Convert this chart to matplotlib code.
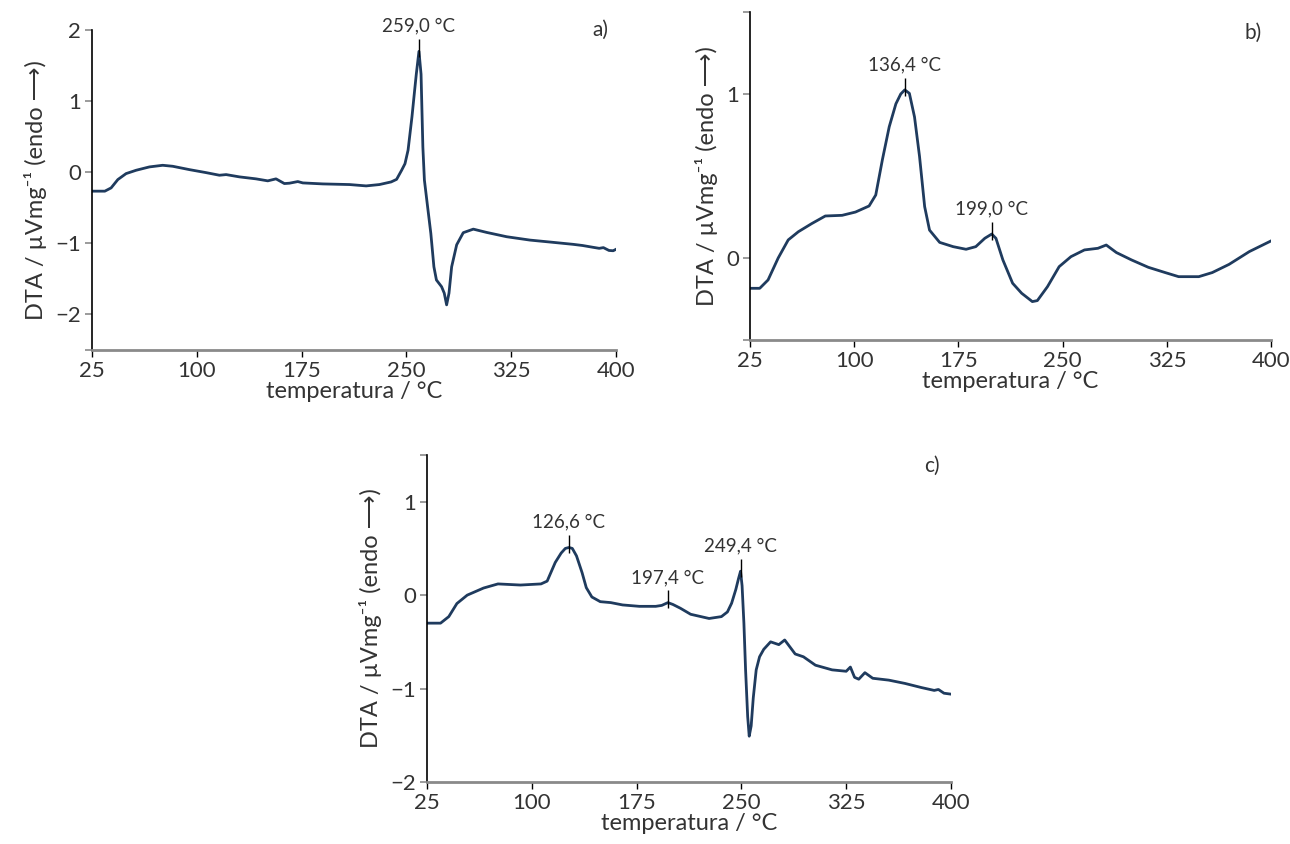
import numpy as np
import matplotlib
matplotlib.use('Agg')
from matplotlib import pyplot as plt

plt.rcParams['font.family'] = ['Lato', 'DejaVu Sans']

# DTA curve a) -- temperature (°C) and signal (µV/mg)
temp_a = [25, 34.2, 38.7, 43.5, 49.4, 56.6, 66.1, 75.6, 82.8, 94.7, 106.6, 116.2, 121,
          130.5, 142.4, 150.8, 156.7, 162.7, 166.3, 172.3, 175.9, 190.2, 209.3, 221.2,
          230.7, 239.1, 243, 246.6, 249, 251.2, 254, 255.9, 257.1, 259.0, 260.5, 261.8,
          262.9, 265.2, 267.5, 269.7, 271.5, 275.2, 277.1, 278.8, 280.5, 282.4, 286,
          290.7, 297.9, 307.4, 321.8, 338.4, 355.1, 369.4, 376, 383.7, 388, 391, 395, 398, 400]
dta_a = [-0.266, -0.266, -0.22, -0.103, -0.019, 0.028, 0.075, 0.098, 0.084, 0.037,
         -0.005, -0.042, -0.033, -0.065, -0.093, -0.121, -0.093, -0.159, -0.154, -0.131,
         -0.15, -0.164, -0.173, -0.192, -0.173, -0.136, -0.10, 0.028, 0.12, 0.31, 0.78,
         1.15, 1.38, 1.70, 1.38, 0.355, -0.11, -0.487, -0.86, -1.33, -1.515, -1.61, -1.70,
         -1.865, -1.70, -1.33, -1.02, -0.85, -0.80, -0.846, -0.907, -0.954, -0.986,
         -1.014, -1.03, -1.056, -1.07, -1.06, -1.10, -1.104, -1.084]

# DTA curve b)
temp_b = [25, 32.0, 38.0, 45.3, 52.5, 59.8, 69.5, 79.2, 91.3, 100.9, 110.7, 115.5, 120.3,
          125.2, 130.0, 133.5, 136.4, 139.7, 143.4, 147.0, 150.7, 154.2, 161.5, 171.2,
          180.5, 187.5, 194, 199.0, 202, 207, 214, 220.5, 228.2, 231.8, 239.1, 247.5,
          256.0, 265.7, 275.4, 281.4, 288.7, 299.6, 311.7, 323.8, 333.5, 348.0, 357.7,
          369.8, 384.4, 400]
dta_b = [-0.185, -0.185, -0.134, 0.0, 0.11, 0.16, 0.21, 0.256, 0.26, 0.28, 0.317, 0.384,
         0.60, 0.80, 0.94, 1.0, 1.025, 1.004, 0.86, 0.62, 0.313, 0.17, 0.095, 0.069,
         0.053, 0.069, 0.12, 0.146, 0.12, -0.012, -0.154, -0.215, -0.266, -0.26, -0.175,
         -0.053, 0.008, 0.049, 0.059, 0.079, 0.033, -0.012, -0.057, -0.089, -0.114,
         -0.114, -0.089, -0.039, 0.039, 0.104]

# DTA curve c)
temp_c = [25, 34.7, 40.6, 46.4, 53.8, 65.5, 75.8, 91.9, 106.6, 111, 116.8, 121, 124,
          126.6, 129, 132, 136, 139, 143, 149, 156.5, 165, 177, 188.7, 193, 197.4, 201,
          206.3, 213.7, 226.9, 235.7, 240, 243, 246, 248, 249.4, 250.5, 251.8, 253,
          254.5, 255.6, 257, 258.5, 260.6, 263, 266, 270.9, 276.8, 281, 288.5, 294.4,
          303, 314.9, 325, 328, 331, 334, 338.4, 344, 355.5, 367, 379, 388, 391, 395, 400]
dta_c = [-0.30, -0.30, -0.23, -0.09, 0.0, 0.076, 0.12, 0.108, 0.12, 0.15, 0.35, 0.45,
         0.50, 0.51, 0.50, 0.42, 0.24, 0.08, -0.02, -0.07, -0.08, -0.105, -0.12, -0.12,
         -0.11, -0.08, -0.10, -0.14, -0.205, -0.25, -0.23, -0.18, -0.087, 0.06, 0.18,
         0.256, 0.10, -0.30, -0.80, -1.30, -1.51, -1.40, -1.10, -0.80, -0.66, -0.58,
         -0.50, -0.53, -0.48, -0.63, -0.66, -0.75, -0.80, -0.815, -0.77, -0.88, -0.90,
         -0.83, -0.89, -0.91, -0.945, -0.99, -1.02, -1.01, -1.05, -1.06]

peaks_a = [(259.0, 1.70, '259,0 °C')]
peaks_b = [(136.4, 1.025, '136,4 °C'), (199.0, 0.146, '199,0 °C')]
peaks_c = [(126.6, 0.51, '126,6 °C'), (197.4, -0.08, '197,4 °C'), (249.4, 0.256, '249,4 °C')]

xticks = [25, 100, 175, 250, 325, 400]
line_col = '#1f3b5e'
txt_col = '#333333'

fig = plt.figure(figsize=(12.9, 8.44), dpi=100)
ax_a = fig.add_axes([0.0713, 0.5853, 0.4062, 0.3791])
ax_b = fig.add_axes([0.5814, 0.5972, 0.4039, 0.3886])
ax_c = fig.add_axes([0.3310, 0.0735, 0.4062, 0.3874])


def style(ax, ylim, yticks, tag, tag_x, tag_y):
    ax.set_xlim(25, 400)
    ax.set_ylim(*ylim)
    ax.set_xticks(xticks)
    ax.set_yticks(yticks)
    ax.set_yticklabels([f'{t:g}'.replace('-', '\u2212') if t in (-2, -1, 0, 1, 2) else ''
                        for t in yticks])
    for s in ['top', 'right']:
        ax.spines[s].set_visible(False)
    ax.spines['left'].set_color('black')
    ax.spines['left'].set_linewidth(1.2)
    ax.spines['bottom'].set_color('#8a8a8a')
    ax.spines['bottom'].set_linewidth(2)
    ax.tick_params(axis='x', direction='out', length=5, width=1, color='black',
                   labelsize=16, labelcolor=txt_col, pad=3)
    ax.tick_params(axis='y', direction='out', length=5, width=1.2, color='#8a8a8a',
                   labelsize=16, labelcolor=txt_col, pad=3)
    ax.set_xlabel('temperatura / °C', fontsize=17, color=txt_col, labelpad=0)
    ax.set_ylabel('DTA / µVmg⁻¹ (endo ⟶)', fontsize=17, color=txt_col, labelpad=6)
    ax.text(tag_x, tag_y, tag, transform=ax.transAxes, fontsize=15, color=txt_col,
            ha='right', va='center')


def draw(ax, t, v, peaks):
    ax.plot(t, v, color=line_col, lw=2, solid_joinstyle='round')
    span = ax.get_ylim()[1] - ax.get_ylim()[0]
    for x, y, lab in peaks:
        ax.plot(x, y + 0.01 * span, marker='|', ms=13, mew=1, color='black')
        ax.annotate(lab, xy=(x, y), xytext=(0, 12), textcoords='offset points',
                    ha='center', va='bottom', fontsize=13.5, color=txt_col,
                    annotation_clip=False)


style(ax_a, (-2.5, 2), [-2.5, -2, -1, 0, 1, 2], 'a)', 0.985, 1.0)
style(ax_b, (-0.5, 1.5), [-0.5, 0, 1, 1.5], 'b)', 0.983, 0.936)
style(ax_c, (-2, 1.5), [-2, -1, 0, 1, 1.5], 'c)', 0.979, 0.966)

draw(ax_a, temp_a, dta_a, peaks_a)
draw(ax_b, temp_b, dta_b, peaks_b)
draw(ax_c, temp_c, dta_c, peaks_c)

fig.savefig('out.png', dpi=100, facecolor='white')
